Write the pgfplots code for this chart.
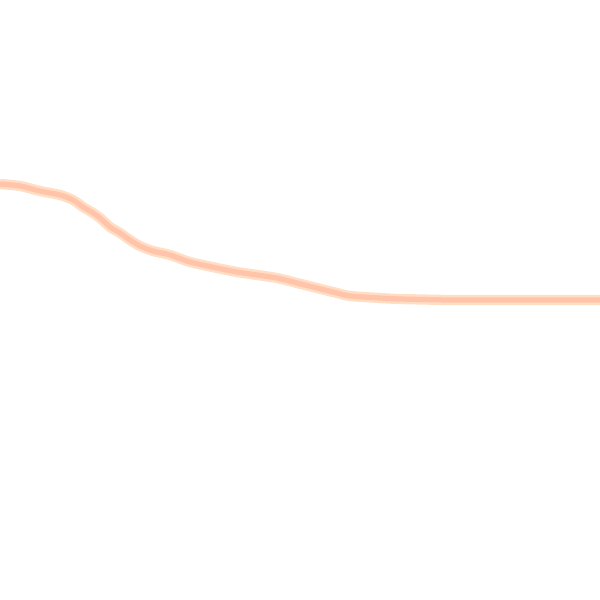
\documentclass[border=0pt]{standalone}
\usepackage{pgfplots}
\pgfplotsset{compat=1.18}
\definecolor{core}{RGB}{255,196,170}
\definecolor{halo}{RGB}{255,222,196}
\pgfplotstableread{
x y
0 416
20 414
40 409
60 405
73 400
83 393
93 387
100 382
110 373
120 367
130 360
140 354
153 349
170 345
190 338
217 332
237 328
257 325
277 322
297 317
317 312
337 307
350 304
380 302
400 301
450 300
500 300
550 300
600 300
}\curve
\begin{document}
\begin{tikzpicture}
\begin{axis}[
  scale only axis, width=6in, height=6in,
  xmin=0, xmax=600, ymin=0, ymax=600,
  hide axis, clip=true]
% line traced in image pixels (y measured from the bottom)
\addplot[halo, line width=7.4pt, smooth] table {\curve};
\addplot[core, line width=3.8pt, smooth] table {\curve};
\end{axis}
\pgfresetboundingbox
\path (current axis.south west) rectangle (current axis.north east);
\end{tikzpicture}
\end{document}
